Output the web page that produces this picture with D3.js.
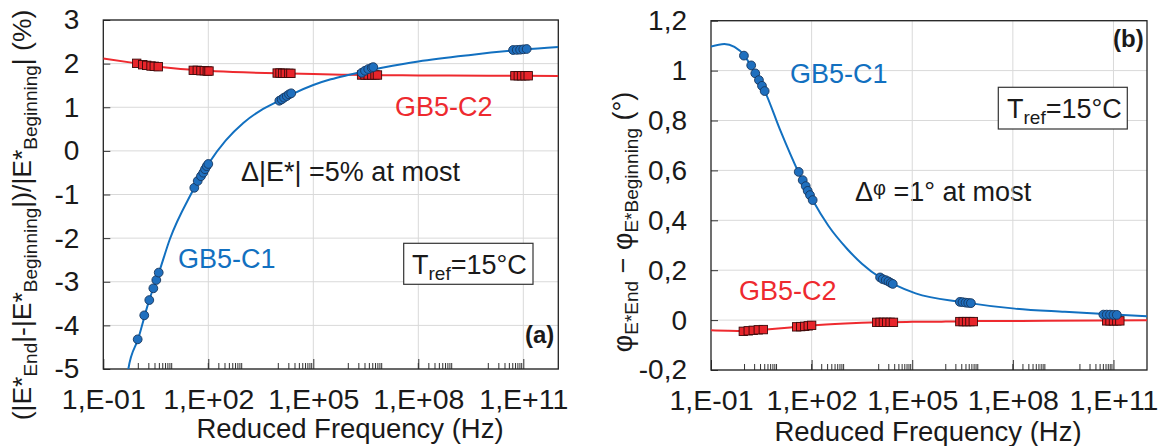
<!DOCTYPE html>
<html><head><meta charset="utf-8">
<script src="https://cdn.jsdelivr.net/npm/d3@7"></script>
<style>body{margin:0;background:#fff}svg{display:block}text{font-family:"Liberation Sans",Arial,Helvetica,sans-serif;fill:#1a1a1a}</style>
</head><body><svg id="c" width="1164" height="446"></svg>
<script>
// ---------- shared axis data ----------
const xTickValues = [1e-1, 1e2, 1e5, 1e8, 1e11];
const xTickLabels = ["1,E-01", "1,E+02", "1,E+05", "1,E+08", "1,E+11"];
const xDomain = [1e-1, 1e12];
const minorDecades = [0, 2, 4, 6, 8, 10];
const leftYTicks = [3, 2, 1, 0, -1, -2, -3, -4, -5];
const leftYLabels = ["3", "2", "1", "0", "-1", "-2", "-3", "-4", "-5"];
const rightYTicks = [1.2, 1, 0.8, 0.6, 0.4, 0.2, 0, -0.2];
const rightYLabels = ["1,2", "1", "0,8", "0,6", "0,4", "0,2", "0", "-0,2"];

// ---------- panel (a): |E*| change (%) ----------
const aC1Freq = [0.96, 1.48, 2.06, 2.69, 3.27, 3.83,
  39.8, 49.8, 61.7, 71.9, 80.5, 89.9, 100,
  1.07e4, 1.25e4, 1.46e4, 1.74e4, 2.02e4, 2.34e4,
  2.42e6, 3.0e6, 3.72e6, 4.67e6, 5.18e6,
  5.1e10, 6.5e10, 8.1e10, 1.0e11, 1.25e11];
const aC1Val = [-4.32, -3.77, -3.42, -3.15, -2.96, -2.79,
  -0.846, -0.69, -0.58, -0.50, -0.42, -0.35, -0.30,
  1.149, 1.18, 1.22, 1.257, 1.296, 1.32,
  1.79, 1.837, 1.876, 1.906, 1.92,
  2.312, 2.315, 2.319, 2.328, 2.335];
const aC2Freq = [0.90, 1.34, 1.74, 2.31, 2.86, 3.72,
  37.2, 48.5, 61.7, 76.9, 93.5, 104.7,
  9.3e3, 1.12e4, 1.33e4, 1.58e4, 2.0e4, 2.29e4,
  2.4e6, 3.0e6, 3.7e6, 4.7e6, 5.8e6, 6.8e6,
  5.75e10, 7.2e10, 8.9e10, 1.12e11, 1.38e11];
const aC2Val = [2.007, 1.975, 1.96, 1.945, 1.938, 1.929,
  1.846, 1.846, 1.837, 1.837, 1.83, 1.83,
  1.784, 1.784, 1.777, 1.777, 1.777, 1.777,
  1.739, 1.739, 1.739, 1.739, 1.739, 1.739,
  1.722, 1.722, 1.722, 1.722, 1.722];
// fitted model curves
const aC1CurveFreq = [0.45, 0.52, 1, 2, 4, 8, 31.6, 100, 316, 1e3, 3.16e3, 1.07e4, 2.34e4, 1e5, 3.16e5, 1e6, 3.16e6, 1e7, 1e8, 3.16e9, 1e11, 1e12];
const aC1CurveVal = [-5.35, -5.0, -4.3, -3.45, -2.76, -2.02, -1.0, -0.30, 0.24, 0.64, 0.93, 1.15, 1.29, 1.51, 1.64, 1.74, 1.83, 1.91, 2.05, 2.2, 2.32, 2.38];
const aC2CurveFreq = [1e-1, 1, 4, 10, 100, 1e3, 1e4, 1e5, 1e6, 1e7, 1e8, 1e10, 1e12];
const aC2CurveVal = [2.12, 2.0, 1.93, 1.895, 1.835, 1.80, 1.78, 1.76, 1.745, 1.735, 1.73, 1.723, 1.718];

// ---------- panel (b): phase angle change (deg) ----------
const bC1Freq = [0.96, 1.58, 2.09, 2.69, 3.31, 3.98,
  41.2, 54.2, 66.7, 76.4, 89.5, 107.6,
  1.1e4, 1.32e4, 1.62e4, 1.95e4, 2.29e4, 2.63e4,
  2.63e6, 3.16e6, 3.89e6, 4.68e6, 5.62e6,
  5.0e10, 6.3e10, 7.9e10, 1.0e11, 1.26e11];
const bC1Val = [1.060, 1.021, 0.989, 0.962, 0.939, 0.918,
  0.594, 0.561, 0.537, 0.518, 0.501, 0.481,
  0.171, 0.164, 0.160, 0.155, 0.149, 0.145,
  0.073, 0.072, 0.070, 0.069, 0.068,
  0.022, 0.022, 0.022, 0.021, 0.021];
const bC2Freq = [0.92, 1.29, 1.82, 2.57, 3.63,
  35.9, 47.2, 62.1, 79.4, 100,
  8.7e3, 1.1e4, 1.38e4, 1.74e4, 2.19e4, 2.75e4,
  2.63e6, 3.31e6, 4.17e6, 5.25e6, 6.61e6,
  6.3e10, 7.9e10, 1.0e11, 1.26e11, 1.55e11];
const bC2Val = [-0.045, -0.043, -0.041, -0.039, -0.038,
  -0.027, -0.026, -0.025, -0.023, -0.021,
  -0.009, -0.009, -0.009, -0.009, -0.009, -0.009,
  -0.006, -0.006, -0.006, -0.006, -0.006,
  -0.003, -0.003, -0.003, -0.003, -0.003];
const bC1CurveFreq = [1e-1, 0.25, 0.5, 1, 2, 4, 11.5, 40, 107, 316, 1.17e3, 3.16e3, 1.1e4, 2.63e4, 1.26e5, 3.16e6, 1.15e8, 3.55e9, 1e11, 1e12];
const bC1CurveVal = [1.096, 1.107, 1.095, 1.06, 0.99, 0.918, 0.762, 0.594, 0.481, 0.378, 0.284, 0.226, 0.171, 0.145, 0.107, 0.072, 0.046, 0.033, 0.022, 0.015];
const bC2CurveFreq = [1e-1, 0.32, 1, 3.16, 10, 31.6, 100, 1e3, 1e4, 1e5, 1e6, 1e7, 1e9, 1e12];
const bC2CurveVal = [-0.041, -0.043, -0.044, -0.039, -0.034, -0.028, -0.022, -0.014, -0.009, -0.007, -0.006, -0.004, -0.003, -0.001];

const BLUE = "#1270c0", BLUE_FILL = "#1f6fbe", BLUE_STROKE = "#17375e";
const RED = "#ee2a2f", RED_FILL = "#e8252b", RED_STROKE = "#3a0a0a";
const FONT = '"Liberation Sans",Arial,sans-serif';

const svg = d3.select("#c");

function panel(cfg) {
  const x = d3.scaleLog().domain(xDomain).range([cfg.x0, cfg.x1]);
  const y = d3.scaleLinear().domain(cfg.yDomain).range([cfg.y1, cfg.y0]);
  const g = svg.append("g");
  const clipId = "clip" + cfg.id;
  svg.append("clipPath").attr("id", clipId).append("rect")
    .attr("x", cfg.x0).attr("y", cfg.y0).attr("width", cfg.x1 - cfg.x0).attr("height", cfg.y1 - cfg.y0);

  // grid
  g.selectAll(".hg").data(cfg.yTicks).enter().append("line")
    .attr("x1", cfg.x0).attr("x2", cfg.x1).attr("y1", d => y(d)).attr("y2", d => y(d))
    .attr("stroke", "#d9d9d9").attr("stroke-width", 1);
  g.selectAll(".vg").data(xTickValues.slice(1)).enter().append("line")
    .attr("x1", d => x(d)).attr("x2", d => x(d)).attr("y1", cfg.y0).attr("y2", cfg.y1)
    .attr("stroke", "#d9d9d9").attr("stroke-width", 1);

  // y axis (ticks inside) + labels
  const yAxis = d3.axisLeft(y).tickValues(cfg.yTicks).tickSize(-7).tickPadding(24)
    .tickFormat((d, i) => cfg.yLabels[i]);
  const ya = g.append("g").attr("transform", `translate(${cfg.x0},0)`).call(yAxis);
  ya.select(".domain").remove();
  ya.selectAll("line").attr("stroke", "#333");
  ya.selectAll("text").attr("font-size", 28).attr("fill", "#1a1a1a").attr("font-family", FONT);

  // x axis: major ticks inside + labels
  const xAxis = d3.axisBottom(x).tickValues(xTickValues).tickSize(-10).tickPadding(0)
    .tickFormat((d, i) => xTickLabels[i]);
  const xa = g.append("g").attr("transform", `translate(0,${cfg.y1})`).call(xAxis);
  xa.select(".domain").remove();
  xa.selectAll("line").attr("stroke", "#333");
  xa.selectAll("text").attr("font-size", 28.5).attr("fill", "#1a1a1a").attr("dy", null)
    .attr("y", cfg.xLabelBase - cfg.y1).attr("font-family", FONT);

  // minor ticks
  const minors = [];
  minorDecades.forEach(k => { for (let n = 1; n <= 9; n++) minors.push(n * Math.pow(10, k)); });
  g.selectAll(".mt").data(minors).enter().append("line")
    .attr("x1", d => x(d)).attr("x2", d => x(d)).attr("y1", cfg.y1).attr("y2", cfg.y1 - 6)
    .attr("stroke", "#333").attr("stroke-width", 1);

  // frame
  g.append("rect").attr("x", cfg.x0).attr("y", cfg.y0).attr("width", cfg.x1 - cfg.x0)
    .attr("height", cfg.y1 - cfg.y0).attr("fill", "none").attr("stroke", "#222").attr("stroke-width", 1.3);

  // x title
  g.append("text").attr("x", cfg.xTitleX).attr("y", cfg.xTitleY).attr("text-anchor", "middle")
    .attr("font-size", 27.5).text("Reduced Frequency (Hz)");

  const line = d3.line().x(d => x(d[0])).y(d => y(d[1])).curve(d3.curveMonotoneX);
  const plot = g.append("g").attr("clip-path", `url(#${clipId})`);
  const c2 = d3.zip(cfg.c2cf, cfg.c2cv), c1 = d3.zip(cfg.c1cf, cfg.c1cv);
  plot.append("path").datum(c2).attr("d", line).attr("fill", "none").attr("stroke", RED).attr("stroke-width", 2);
  plot.append("path").datum(c1).attr("d", line).attr("fill", "none").attr("stroke", BLUE).attr("stroke-width", 2);

  plot.selectAll(".sq").data(d3.zip(cfg.c2f, cfg.c2v)).enter().append("rect")
    .attr("x", d => x(d[0]) - 4.2).attr("y", d => y(d[1]) - 4.2).attr("width", 8.4).attr("height", 8.4)
    .attr("fill", RED_FILL).attr("stroke", RED_STROKE).attr("stroke-width", 0.9);
  plot.selectAll(".ci").data(d3.zip(cfg.c1f, cfg.c1v)).enter().append("circle")
    .attr("cx", d => x(d[0])).attr("cy", d => y(d[1])).attr("r", 4.4)
    .attr("fill", BLUE_FILL).attr("stroke", BLUE_STROKE).attr("stroke-width", 0.9);
  return g;
}

const ga = panel({
  id: "a", x0: 103.3, x1: 558.3, y0: 20, y1: 369, yDomain: [-5, 3],
  yTicks: leftYTicks, yLabels: leftYLabels, xLabelBase: 409, xTitleX: 350, xTitleY: 438,
  c1f: aC1Freq, c1v: aC1Val, c2f: aC2Freq, c2v: aC2Val,
  c1cf: aC1CurveFreq, c1cv: aC1CurveVal, c2cf: aC2CurveFreq, c2cv: aC2CurveVal
});
const gb = panel({
  id: "b", x0: 711, x1: 1147, y0: 20.7, y1: 370, yDomain: [-0.2, 1.2],
  yTicks: rightYTicks, yLabels: rightYLabels, xLabelBase: 410, xTitleX: 928, xTitleY: 441,
  c1f: bC1Freq, c1v: bC1Val, c2f: bC2Freq, c2v: bC2Val,
  c1cf: bC1CurveFreq, c1cv: bC1CurveVal, c2cf: bC2CurveFreq, c2cv: bC2CurveVal
});

// ---------- annotations ----------
function label(g, x, y, txt, color, size, weight) {
  return g.append("text").attr("x", x).attr("y", y).attr("font-size", size || 27)
    .attr("font-weight", weight || "normal").style("fill", color || "#1a1a1a").text(txt);
}
label(ga, 395, 116, "GB5-C2", RED);
label(ga, 178, 268, "GB5-C1", BLUE);
label(ga, 241, 181, "Δ|E*| =5% at most");
label(ga, 525, 343, "(a)", null, 24, "bold");
label(gb, 790, 83, "GB5-C1", BLUE);
label(gb, 739, 300, "GB5-C2", RED);
const dphi = ga.append("text").attr("x", 855).attr("y", 201).attr("font-size", 27);
dphi.append("tspan").text("Δ");
dphi.append("tspan").attr("font-size", 20).attr("dy", -6).text("φ");
dphi.append("tspan").attr("dy", 6).text(" =1° at most");
label(gb, 1113, 47, "(b)", null, 24, "bold");

function tref(g, bx, by, bw, bh, tx, ty) {
  g.append("rect").attr("x", bx).attr("y", by).attr("width", bw).attr("height", bh)
    .attr("fill", "#fff").attr("stroke", "#333").attr("stroke-width", 1.2);
  const t = g.append("text").attr("x", tx).attr("y", ty).attr("font-size", 27);
  t.append("tspan").text("T");
  t.append("tspan").attr("font-size", 19).attr("dy", 6).text("ref");
  t.append("tspan").attr("dy", -6).text("=15°C");
}
tref(ga, 403.7, 243.3, 129.3, 41, 412, 274);
tref(gb, 998.3, 87.3, 129, 41.7, 1007, 118);

// ---------- y-axis titles ----------
const ta = svg.append("text").attr("transform", "translate(31,215) rotate(-90)")
  .attr("text-anchor", "middle").attr("font-size", 26);
[["(|E*", 0], ["End", 1], ["|-|E*", 0], ["Beginning", 1], ["|)/|E*", 0], ["Beginning", 1], ["| (%)", 0]]
  .forEach(([s, sub], i, arr) => {
    const prev = i > 0 ? arr[i - 1][1] : 0;
    const dy = sub && !prev ? 6 : (!sub && prev ? -6 : 0);
    ta.append("tspan").attr("dy", dy).attr("font-size", sub ? 19 : 26.5).text(s);
  });
const tb = svg.append("text").attr("transform", "translate(632,222) rotate(-90)")
  .attr("text-anchor", "middle").attr("font-size", 27);
[["φ", 0], ["E*End", 1], [" − φ", 0], ["E*Beginning", 1], ["  (°)", 0]]
  .forEach(([s, sub], i, arr) => {
    const prev = i > 0 ? arr[i - 1][1] : 0;
    const dy = sub && !prev ? 6 : (!sub && prev ? -6 : 0);
    tb.append("tspan").attr("dy", dy).attr("font-size", sub ? 19 : 27).text(s);
  });
</script></body></html>
